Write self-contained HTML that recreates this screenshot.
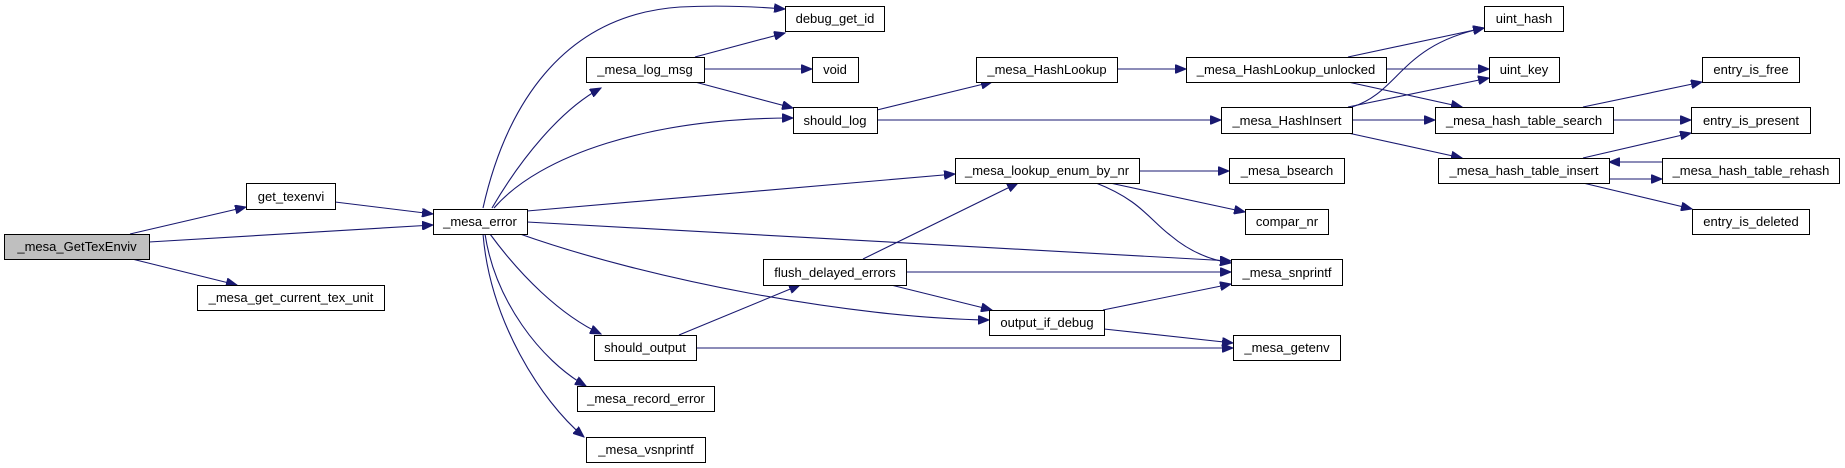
<!DOCTYPE html>
<html><head><meta charset="utf-8"><style>
html,body{margin:0;padding:0;background:#fff;}
svg{display:block;}
text{font-family:"Liberation Sans",Arial,sans-serif;font-size:13px;fill:#000;}
.n{fill:#fff;stroke:#000;stroke-width:1;}
.e{fill:none;stroke:#191970;stroke-width:1.1;}
</style></head><body>
<svg width="1845" height="468" viewBox="0 0 1845 468" xmlns="http://www.w3.org/2000/svg">
<defs>
<marker id="a" markerUnits="userSpaceOnUse" markerWidth="12" markerHeight="9" refX="11" refY="4.5" orient="auto">
<path d="M0,0 L11,4.5 L0,9 z" fill="#191970" stroke="#191970"/>
</marker>
</defs>
<g marker-end="url(#a)">
<path class="e" d="M130,234 L246,207"/>
<path class="e" d="M149,242 L433,225"/>
<path class="e" d="M132,259 L237,285"/>
<path class="e" d="M335,202 L433,214"/>
<path class="e" d="M483,208 C505,110 560,15 680,7 C720,5 760,7 785,9"/>
<path class="e" d="M492,208 C520,160 560,110 601,88"/>
<path class="e" d="M494,208 C540,155 650,118 793,118"/>
<path class="e" d="M527,211 L955,174"/>
<path class="e" d="M527,222 L1231,261"/>
<path class="e" d="M520,234 C650,280 850,318 989,320"/>
<path class="e" d="M490,234 C520,275 560,315 601,334"/>
<path class="e" d="M485,234 C495,300 540,360 586,386"/>
<path class="e" d="M483,234 C490,320 540,400 584,437"/>
<path class="e" d="M695,57 L785,33"/>
<path class="e" d="M704,69 L812,69"/>
<path class="e" d="M695,82 L793,108"/>
<path class="e" d="M877,110 L992,82"/>
<path class="e" d="M877,120 L1221,120"/>
<path class="e" d="M1117,69 L1186,69"/>
<path class="e" d="M1348,57 L1484,28"/>
<path class="e" d="M1386,69 L1489,69"/>
<path class="e" d="M1348,82 L1462,107"/>
<path class="e" d="M1352,107 C1400,92 1400,45 1484,28"/>
<path class="e" d="M1348,107 L1489,78"/>
<path class="e" d="M1352,120 L1435,120"/>
<path class="e" d="M1348,133 L1462,158"/>
<path class="e" d="M1583,107 L1702,82"/>
<path class="e" d="M1613,120 L1691,120"/>
<path class="e" d="M1583,158 L1691,133"/>
<path class="e" d="M1609,179 L1662,179"/>
<path class="e" d="M1662,162 L1609,162"/>
<path class="e" d="M1583,183 L1692,209"/>
<path class="e" d="M1139,171 L1229,171"/>
<path class="e" d="M1110,183 L1245,212"/>
<path class="e" d="M1096,183 C1140,200 1150,220 1170,235 C1190,252 1210,260 1231,263"/>
<path class="e" d="M863,259 L1018,183"/>
<path class="e" d="M906,272 L1231,272"/>
<path class="e" d="M891,285 L992,310"/>
<path class="e" d="M679,335 L800,285"/>
<path class="e" d="M696,348 L1233,348"/>
<path class="e" d="M1103,310 L1231,284"/>
<path class="e" d="M1104,329 L1233,343"/>
</g>
<g text-anchor="middle">
<rect x="4.5" y="234.5" width="145" height="25" style="fill:#bfbfbf;stroke:#000"/><text x="77" y="251">_mesa_GetTexEnviv</text>
<rect class="n" x="246.5" y="183.5" width="89" height="26"/><text x="291" y="201">get_texenvi</text>
<rect class="n" x="197.5" y="285.5" width="187" height="25"/><text x="291" y="302">_mesa_get_current_tex_unit</text>
<rect class="n" x="433.5" y="209.5" width="94" height="25"/><text x="480" y="226">_mesa_error</text>
<rect class="n" x="586.5" y="57.5" width="118" height="25"/><text x="645" y="74">_mesa_log_msg</text>
<rect class="n" x="594.5" y="335.5" width="102" height="25"/><text x="645" y="352">should_output</text>
<rect class="n" x="577.5" y="386.5" width="137" height="25"/><text x="646" y="403">_mesa_record_error</text>
<rect class="n" x="586.5" y="437.5" width="119" height="25"/><text x="646" y="454">_mesa_vsnprintf</text>
<rect class="n" x="785.5" y="6.5" width="99" height="25"/><text x="835" y="23">debug_get_id</text>
<rect class="n" x="812.5" y="57.5" width="46" height="25"/><text x="835" y="74">void</text>
<rect class="n" x="793.5" y="107.5" width="84" height="26"/><text x="835" y="125">should_log</text>
<rect class="n" x="763.5" y="259.5" width="143" height="26"/><text x="835" y="277">flush_delayed_errors</text>
<rect class="n" x="976.5" y="57.5" width="141" height="25"/><text x="1047" y="74">_mesa_HashLookup</text>
<rect class="n" x="955.5" y="158.5" width="184" height="25"/><text x="1047" y="175">_mesa_lookup_enum_by_nr</text>
<rect class="n" x="989.5" y="310.5" width="115" height="25"/><text x="1047" y="327">output_if_debug</text>
<rect class="n" x="1186.5" y="57.5" width="200" height="25"/><text x="1286" y="74">_mesa_HashLookup_unlocked</text>
<rect class="n" x="1221.5" y="107.5" width="131" height="26"/><text x="1287" y="125">_mesa_HashInsert</text>
<rect class="n" x="1229.5" y="158.5" width="115" height="25"/><text x="1287" y="175">_mesa_bsearch</text>
<rect class="n" x="1245.5" y="209.5" width="83" height="25"/><text x="1287" y="226">compar_nr</text>
<rect class="n" x="1231.5" y="259.5" width="111" height="26"/><text x="1287" y="277">_mesa_snprintf</text>
<rect class="n" x="1233.5" y="335.5" width="107" height="25"/><text x="1287" y="352">_mesa_getenv</text>
<rect class="n" x="1484.5" y="6.5" width="79" height="25"/><text x="1524" y="23">uint_hash</text>
<rect class="n" x="1489.5" y="57.5" width="70" height="25"/><text x="1524" y="74">uint_key</text>
<rect class="n" x="1435.5" y="107.5" width="178" height="26"/><text x="1524" y="125">_mesa_hash_table_search</text>
<rect class="n" x="1438.5" y="158.5" width="171" height="25"/><text x="1524" y="175">_mesa_hash_table_insert</text>
<rect class="n" x="1702.5" y="57.5" width="97" height="25"/><text x="1751" y="74">entry_is_free</text>
<rect class="n" x="1691.5" y="107.5" width="119" height="26"/><text x="1751" y="125">entry_is_present</text>
<rect class="n" x="1662.5" y="158.5" width="177" height="25"/><text x="1751" y="175">_mesa_hash_table_rehash</text>
<rect class="n" x="1692.5" y="209.5" width="117" height="25"/><text x="1751" y="226">entry_is_deleted</text>
</g>
</svg>
</body></html>
